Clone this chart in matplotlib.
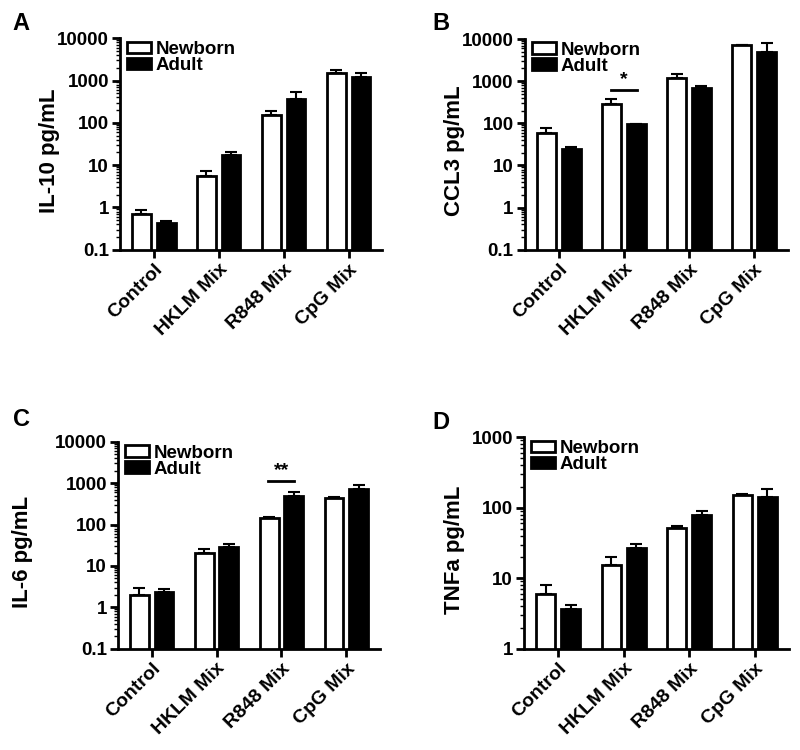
import numpy as np
import matplotlib
matplotlib.use('Agg')
import matplotlib.pyplot as plt
from matplotlib.ticker import LogLocator, FuncFormatter, NullFormatter

plt.rcParams['font.family'] = ['Liberation Sans', 'DejaVu Sans']
plt.rcParams['font.weight'] = 'bold'

categories = ['Control', 'HKLM Mix', 'R848 Mix', 'CpG Mix']
groups = ['Newborn', 'Adult']

# IL-10 (panel A)
il10_newborn = [0.70, 5.5, 150, 1480]
il10_newborn_err = [0.17, 1.9, 40, 320]
il10_adult = [0.42, 17, 370, 1240]
il10_adult_err = [0.05, 3, 170, 300]

# CCL3 (panel B)
ccl3_newborn = [60, 286, 1180, 7200]
ccl3_newborn_err = [19, 84, 310, 200]
ccl3_adult = [25, 95, 670, 4900]
ccl3_adult_err = [3, 3, 90, 3100]

# IL-6 (panel C)
il6_newborn = [2.0, 20, 145, 440]
il6_newborn_err = [1.0, 6, 10, 20]
il6_adult = [2.4, 29, 500, 720]
il6_adult_err = [0.45, 4, 120, 180]

# TNFa (panel D)
tnf_newborn = [6.0, 15.4, 51, 154]
tnf_newborn_err = [2.0, 4.6, 4, 4]
tnf_adult = [3.66, 26.5, 80, 143]
tnf_adult_err = [0.55, 4.3, 9, 42]

panels = [
    ('A', 'IL-10 pg/mL', il10_newborn, il10_newborn_err, il10_adult, il10_adult_err,
     (0.1, 10000), [0.150, 0.667, 0.328, 0.282], None, -0.267),
    ('B', 'CCL3 pg/mL', ccl3_newborn, ccl3_newborn_err, ccl3_adult, ccl3_adult_err,
     (0.1, 10000), [0.656, 0.667, 0.329, 0.281], (1, 630, '*'), -0.266),
    ('C', 'IL-6 pg/mL', il6_newborn, il6_newborn_err, il6_adult, il6_adult_err,
     (0.1, 10000), [0.1475, 0.135, 0.3275, 0.276], (2, 1150, '**'), -0.366),
    ('D', 'TNFa pg/mL', tnf_newborn, tnf_newborn_err, tnf_adult, tnf_adult_err,
     (1, 1000), [0.655, 0.135, 0.331, 0.282], None, -0.264),
]
label_pos = {'A': (0.016, 0.969), 'B': (0.540, 0.969), 'C': (0.016, 0.440), 'D': (0.540, 0.437)}

fig = plt.figure(figsize=(8, 7.5), dpi=100)
x = np.arange(len(categories))
w = 0.29
off = 0.19


def plain(v, pos):
    return '%g' % v


for letter, ylab, nb, nbe, ad, ade, ylim, rect, sig, ylx in panels:
    ax = fig.add_axes(rect)
    ax.bar(x - off, nb, w, color='white', edgecolor='black', linewidth=2, label=groups[0], zorder=2)
    ax.bar(x + off, ad, w, color='black', edgecolor='black', linewidth=2, label=groups[1], zorder=2)
    ax.errorbar(x - off, nb, yerr=[np.zeros(4), nbe], fmt='none', ecolor='black',
                elinewidth=1.5, capsize=4, capthick=1.5, zorder=1)
    ax.errorbar(x + off, ad, yerr=[np.zeros(4), ade], fmt='none', ecolor='black',
                elinewidth=1.5, capsize=4, capthick=1.5, zorder=1)
    ax.set_yscale('log')
    ax.set_ylim(*ylim)
    ax.set_xlim(-0.52, 3.52)
    ax.yaxis.set_major_locator(LogLocator(base=10, numticks=10))
    ax.yaxis.set_major_formatter(FuncFormatter(plain))
    ax.yaxis.set_minor_locator(LogLocator(base=10, subs=np.arange(2, 10), numticks=20))
    ax.yaxis.set_minor_formatter(NullFormatter())
    ax.set_xticks(x)
    ax.set_xticklabels(categories, rotation=45, ha='right', rotation_mode='anchor',
                       fontsize=14, fontweight='bold')
    for t in ax.get_yticklabels():
        t.set_fontsize(13.5)
        t.set_fontweight('bold')
    ax.tick_params(axis='both', which='major', direction='out', length=6, width=2, pad=2)
    ax.tick_params(axis='y', which='minor', direction='out', length=3, width=1)
    ax.spines['top'].set_visible(False)
    ax.spines['right'].set_visible(False)
    ax.spines['left'].set_linewidth(2)
    ax.spines['bottom'].set_linewidth(2)
    ax.set_ylabel(ylab, fontsize=16, fontweight='bold', va='center')
    ax.yaxis.set_label_coords(ylx, 0.47)
    ax.legend(loc='upper left', bbox_to_anchor=(0.015, 1.0), frameon=False,
              handlelength=1.3, handleheight=0.6, handletextpad=0.25,
              labelspacing=-0.05, borderaxespad=0.0, borderpad=0.15,
              prop={'weight': 'bold', 'size': 13.5})
    if sig is not None:
        gi, yv, s = sig
        ax.plot([gi - 0.2, gi + 0.2], [yv, yv], color='black', linewidth=2)
        ax.text(gi, yv * 1.08, s, ha='center', va='bottom', fontsize=14, fontweight='bold')
    fig.text(label_pos[letter][0], label_pos[letter][1], letter, fontsize=17,
             fontweight='bold', ha='left', va='center')

fig.savefig('out.png', dpi=100)
